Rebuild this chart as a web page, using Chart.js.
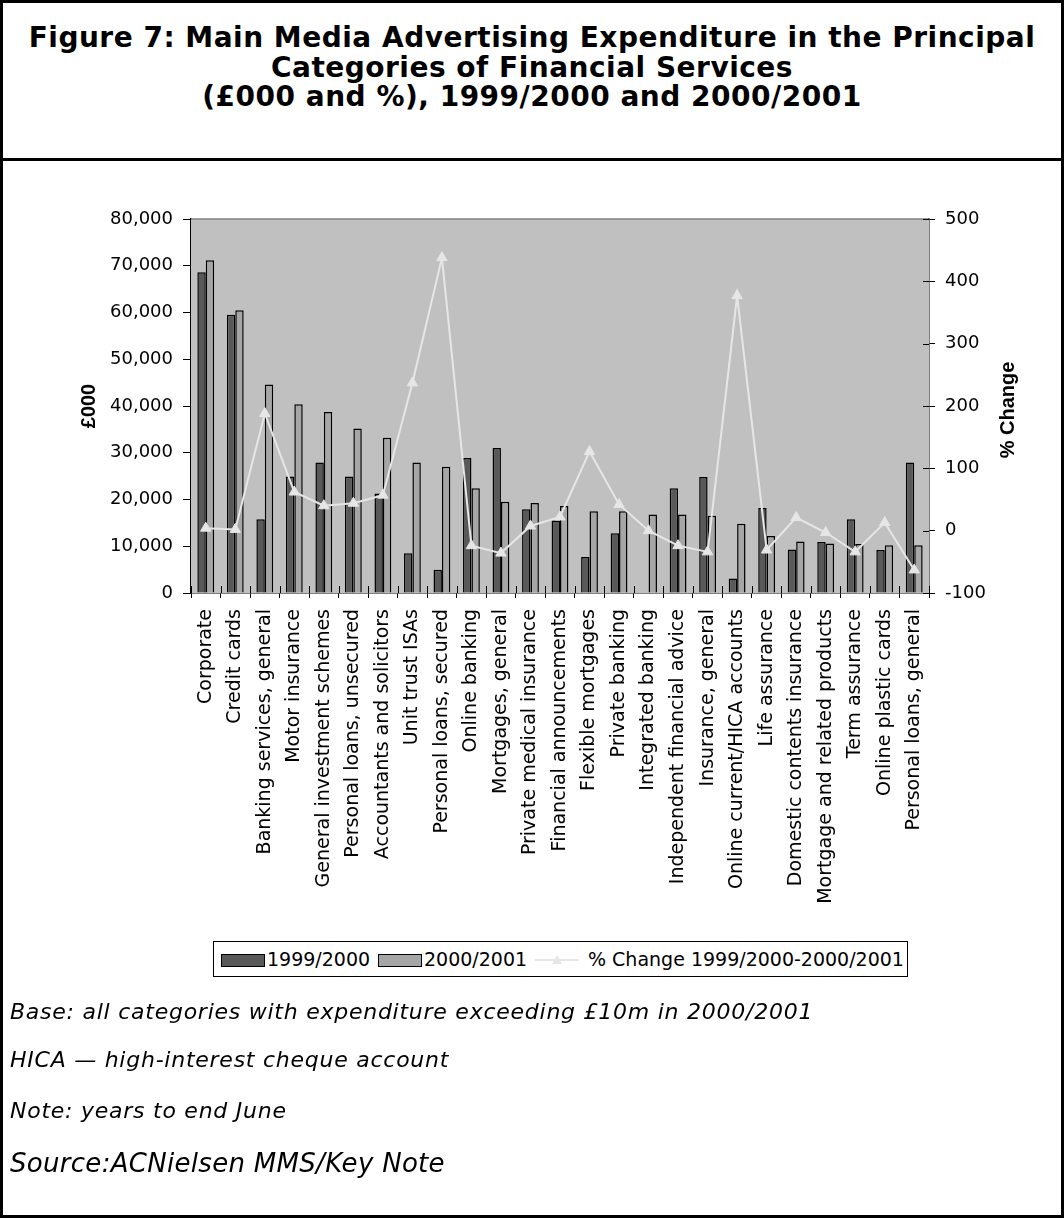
<!DOCTYPE html>
<html>
<head>
<meta charset="utf-8">
<script src="https://cdn.jsdelivr.net/npm/chart.js@4.4.1/dist/chart.umd.min.js"></script>
<style>
  html, body { margin: 0; padding: 0; background: #fff; }
  #page { position: relative; width: 1064px; height: 1218px; overflow: hidden; font-family: "DejaVu Sans", sans-serif; color: #000; }
  #frame { position: absolute; left: 0; top: 0; width: 1058px; height: 1212px; border: 3px solid #000; }
  #rule { position: absolute; left: 0; top: 158px; width: 1064px; height: 3px; background: #000; }
  #title { position: absolute; left: 0; top: 23px; width: 1064px; text-align: center; font: bold 28px/29.6px "DejaVu Sans", sans-serif; letter-spacing: 0.5px; }
  #chart { position: absolute; left: 0; top: 0; }
  .note { position: absolute; left: 10px; font-style: italic; font-size: 22px; line-height: 22px; letter-spacing: 0.75px; white-space: nowrap; }
  #legend { position: absolute; left: 213px; top: 941px; width: 693px; height: 34px; border: 1px solid #000; background: #fff; }
  .sw { position: absolute; top: 12px; width: 42px; height: 11px; border: 1px solid #000; }
  .lt { position: absolute; top: 0; font-size: 19px; line-height: 35px; white-space: nowrap; }
  .ln { position: absolute; top: 17px; width: 44px; height: 2px; background: #e6e6e6; }
  .tri { position: absolute; width: 0; height: 0; border-left: 5px solid transparent; border-right: 5px solid transparent; border-bottom: 9px solid #e6e6e6; }
</style>
</head>
<body>
<div id="page">
  <div id="frame"></div>
  <div id="rule"></div>
  <div id="title">Figure 7: Main Media Advertising Expenditure in the Principal<br>Categories of Financial Services<br>(£000 and %), 1999/2000 and 2000/2001</div>
  <canvas id="chart" width="1064" height="1218"></canvas>
  <div id="legend">
    <div class="sw" style="left:7px;background:#595959"></div>
    <div class="lt" style="left:53px">1999/2000</div>
    <div class="sw" style="left:164px;background:#a6a6a6"></div>
    <div class="lt" style="left:210px">2000/2001</div>
    <div class="ln" style="left:321px"></div>
    <div class="tri" style="left:338px;top:13px"></div>
    <div class="lt" style="left:374px">% Change 1999/2000-2000/2001</div>
  </div>
  <div class="note" style="top:1001px">Base: all categories with expenditure exceeding £10m in 2000/2001</div>
  <div class="note" style="top:1049px">HICA — high-interest cheque account</div>
  <div class="note" style="top:1100px">Note: years to end June</div>
  <div class="note" style="top:1150px;font-size:26px;line-height:26px;letter-spacing:0.3px">Source:ACNielsen MMS/Key Note</div>
</div>
<script>
// Categories, ordered by 2000/2001 spend
const categories = [
  'Corporate', 'Credit cards', 'Banking services, general', 'Motor insurance',
  'General investment schemes', 'Personal loans, unsecured', 'Accountants and solicitors',
  'Unit trust ISAs', 'Personal loans, secured', 'Online banking', 'Mortgages, general',
  'Private medical insurance', 'Financial announcements', 'Flexible mortgages',
  'Private banking', 'Integrated banking', 'Independent financial advice',
  'Insurance, general', 'Online current/HICA accounts', 'Life assurance',
  'Domestic contents insurance', 'Mortgage and related products', 'Term assurance',
  'Online plastic cards', 'Personal loans, general'
];

// Expenditure, £000
const spend1999 = [68600, 59500, 15800, 24900, 27900, 24900, 21300, 8500, 5000, 28900,
  31000, 17900, 15500, 7700, 12800, null, 22400, 24800, 3100, 18200,
  9300, 10900, 15800, 9200, 27900];
const spend2000 = [71200, 60500, 44600, 40400, 38700, 35200, 33200, 27900, 27000, 22400,
  19500, 19250, 18600, 17500, 17500, 16800, 16800, 16500, 14800, 12200,
  11000, 10600, 10500, 10200, 10200];

// % change 1999/2000 - 2000/2001
const pctChange = [4, 2, 188, 62, 40, 44, 57, 237, 438, -24,
  -36, 7.5, 22, 127, 42, 0, -24, -34, 377, -31,
  21, -3, -34, 13, -63];

const spendTicks = { min: 0, max: 80000, step: 10000 };
const pctTicks = { min: -100, max: 500, step: 100 };

const catFont = { family: '"DejaVu Sans", sans-serif', size: 19 };
const valFont = { family: '"DejaVu Sans", sans-serif', size: 18 };

const plotDecor = {
  id: 'plotDecor',
  beforeDatasetsDraw(chart) {
    const { ctx, chartArea: a } = chart;
    ctx.save();
    ctx.fillStyle = '#c0c0c0';
    ctx.fillRect(a.left, a.top, a.right - a.left, a.bottom - a.top);
    ctx.strokeStyle = '#808080';
    ctx.lineWidth = 1.5;
    ctx.beginPath();
    ctx.moveTo(a.left, a.top);
    ctx.lineTo(a.right, a.top);
    ctx.stroke();
    ctx.restore();
  },
  afterDraw(chart) {
    const { ctx, chartArea: a, scales } = chart;
    ctx.save();
    ctx.strokeStyle = '#000';
    ctx.lineWidth = 1;
    // inner half of the category tick marks
    const x = scales.x;
    const cw = x.getPixelForValue(1) - x.getPixelForValue(0);
    ctx.beginPath();
    for (let i = 0; i <= categories.length; i++) {
      const px = Math.round(x.getPixelForValue(0) - cw / 2 + i * cw) + 0.5;
      ctx.moveTo(px, a.bottom - 7);
      ctx.lineTo(px, a.bottom);
    }
    // inner half of the % axis tick marks
    const y1 = scales.y1;
    for (let v = pctTicks.min; v <= pctTicks.max; v += pctTicks.step) {
      const py = Math.round(y1.getPixelForValue(v)) + 0.5;
      ctx.moveTo(a.right - 6, py);
      ctx.lineTo(a.right, py);
    }
    ctx.stroke();
    // axis titles
    ctx.fillStyle = '#000';
    ctx.font = 'bold 20px "Liberation Sans", Arial, sans-serif';
    ctx.textAlign = 'center';
    ctx.textBaseline = 'middle';
    ctx.translate(89, 406);
    ctx.rotate(-Math.PI / 2);
    ctx.fillText('£000', 0, 0);
    ctx.setTransform(1, 0, 0, 1, 0, 0);
    ctx.translate(1008, 410);
    ctx.rotate(-Math.PI / 2);
    ctx.fillText('% Change', 0, 0);
    ctx.restore();
  }
};

new Chart(document.getElementById('chart'), {
  data: {
    labels: categories,
    datasets: [
      {
        type: 'line', label: '% Change 1999/2000-2000/2001', data: pctChange, yAxisID: 'y1',
        borderColor: '#e6e6e6', backgroundColor: '#e6e6e6', borderWidth: 2,
        pointStyle: 'triangle', pointRadius: 6, pointBorderWidth: 1, tension: 0, order: 0
      },
      {
        type: 'bar', label: '1999/2000', data: spend1999, yAxisID: 'y',
        backgroundColor: '#595959', borderColor: '#000', borderWidth: 1.5,
        categoryPercentage: 0.57, barPercentage: 1, order: 1
      },
      {
        type: 'bar', label: '2000/2001', data: spend2000, yAxisID: 'y',
        backgroundColor: '#a6a6a6', borderColor: '#000', borderWidth: 1.5,
        categoryPercentage: 0.57, barPercentage: 1, order: 1
      }
    ]
  },
  options: {
    responsive: false,
    animation: false,
    events: [],
    layout: { padding: { top: 219, left: 0, right: 0, bottom: 0 } },
    plugins: { legend: { display: false }, title: { display: false }, tooltip: { enabled: false } },
    scales: {
      x: {
        type: 'category', offset: true,
        grid: { offset: true, drawOnChartArea: false, drawTicks: true, tickLength: 5, color: '#000', lineWidth: 1 },
        border: { display: true, color: '#000', width: 1.5 },
        ticks: { autoSkip: false, maxRotation: 90, minRotation: 90, padding: 11, color: '#000', font: catFont },
        afterFit: s => { s.height = 625; }
      },
      y: {
        position: 'left', min: spendTicks.min, max: spendTicks.max,
        grid: { drawOnChartArea: false, tickLength: 8, color: '#000', lineWidth: 1 },
        border: { display: true, color: '#000', width: 1.5 },
        ticks: { stepSize: spendTicks.step, padding: 10, color: '#000', font: valFont,
          callback: v => v.toLocaleString('en-US') },
        afterFit: s => { s.width = 191; }
      },
      y1: {
        position: 'right', min: pctTicks.min, max: pctTicks.max,
        grid: { drawOnChartArea: false, tickLength: 6, color: '#000', lineWidth: 1 },
        border: { display: true, color: '#000', width: 1.5 },
        ticks: { stepSize: pctTicks.step, padding: 10, color: '#000', font: valFont },
        afterFit: s => { s.width = 135; }
      }
    }
  },
  plugins: [plotDecor]
});
</script>
</body>
</html>
